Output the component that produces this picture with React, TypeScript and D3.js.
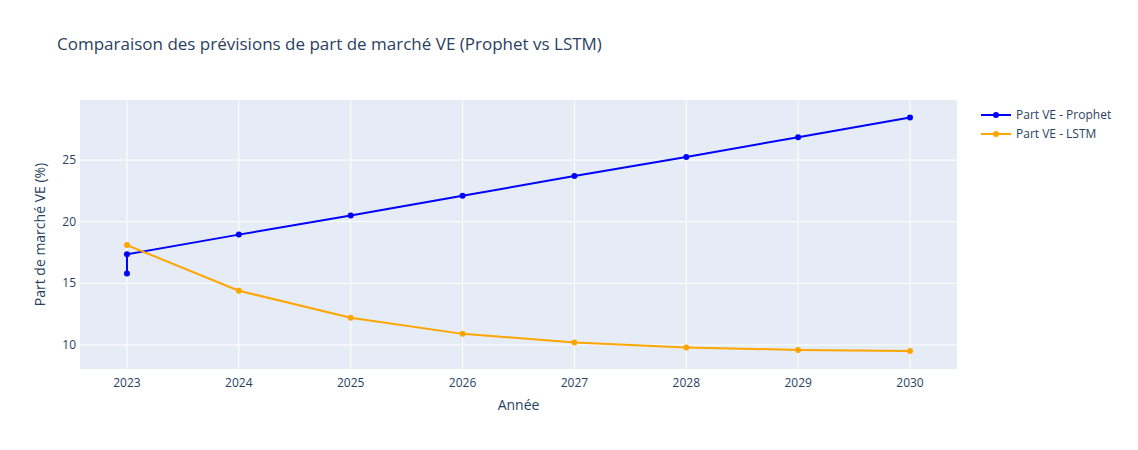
import { useEffect, useRef } from 'react'
import * as d3 from 'd3'

const prophetYears = [2023, 2023, 2024, 2025, 2026, 2027, 2028, 2029, 2030]
const prophetValues = [15.8, 17.35, 18.95, 20.5, 22.1, 23.7, 25.25, 26.85, 28.45]
const lstmYears = [2023, 2024, 2025, 2026, 2027, 2028, 2029, 2030]
const lstmValues = [18.1, 14.4, 12.2, 10.9, 10.2, 9.8, 9.6, 9.5]
const xTicks = [2023, 2024, 2025, 2026, 2027, 2028, 2029, 2030]
const yTicks = [10, 15, 20, 25]
const seriesNames = ['Part VE - Prophet', 'Part VE - LSTM']
const colors = ['#0000ff', '#ffa500']

export default function App() {
  const ref = useRef<SVGSVGElement>(null)

  useEffect(() => {
    const width = 1138, height = 450
    const m = { l: 80, r: 181, t: 100, b: 81 }
    const svg = d3.select(ref.current)
    svg.selectAll('*').remove()
    const font = '"Open Sans", "Liberation Sans", sans-serif'

    const x = d3.scaleLinear().domain([2022.58, 2030.42]).range([m.l, width - m.r])
    const y = d3.scaleLinear().domain([8.05, 29.87]).range([height - m.b, m.t])

    svg.append('rect').attr('width', width).attr('height', height).attr('fill', 'white')
    svg.append('rect')
      .attr('x', m.l).attr('y', m.t)
      .attr('width', width - m.l - m.r).attr('height', height - m.t - m.b)
      .attr('fill', '#e5ecf6')

    xTicks.forEach(t => {
      svg.append('line').attr('x1', x(t)).attr('x2', x(t)).attr('y1', m.t).attr('y2', height - m.b)
        .attr('stroke', 'white').attr('stroke-width', 1)
      svg.append('text').attr('x', x(t)).attr('y', height - m.b + 18).attr('text-anchor', 'middle')
        .attr('font-family', font).attr('font-size', 12).attr('fill', '#2a3f5f').text(t)
    })
    yTicks.forEach(t => {
      svg.append('line').attr('x1', m.l).attr('x2', width - m.r).attr('y1', y(t)).attr('y2', y(t))
        .attr('stroke', 'white').attr('stroke-width', 1)
      svg.append('text').attr('x', m.l - 4).attr('y', y(t) + 4).attr('text-anchor', 'end')
        .attr('font-family', font).attr('font-size', 12).attr('fill', '#2a3f5f').text(t)
    })

    const series = [
      { xs: prophetYears, ys: prophetValues },
      { xs: lstmYears, ys: lstmValues },
    ]
    const line = d3.line<[number, number]>().x(d => x(d[0])).y(d => y(d[1]))
    series.forEach((s, i) => {
      const pts = s.xs.map((v, j) => [v, s.ys[j]] as [number, number])
      svg.append('path').datum(pts).attr('d', line).attr('fill', 'none')
        .attr('stroke', colors[i]).attr('stroke-width', 2)
      svg.selectAll(null).data(pts).enter().append('circle')
        .attr('cx', d => x(d[0])).attr('cy', d => y(d[1])).attr('r', 3).attr('fill', colors[i])
    })

    svg.append('text').attr('x', 57).attr('y', 50).attr('font-family', font).attr('font-size', 17)
      .attr('fill', '#2a3f5f').text('Comparaison des prévisions de part de marché VE (Prophet vs LSTM)')
    svg.append('text').attr('x', (m.l + width - m.r) / 2).attr('y', 410).attr('text-anchor', 'middle')
      .attr('font-family', font).attr('font-size', 14).attr('fill', '#2a3f5f').text('Année')
    svg.append('text').attr('transform', `translate(45,${(m.t + height - m.b) / 2}) rotate(-90)`)
      .attr('text-anchor', 'middle').attr('font-family', font).attr('font-size', 14)
      .attr('fill', '#2a3f5f').text('Part de marché VE (%)')

    seriesNames.forEach((n, i) => {
      const ly = 115 + i * 19
      svg.append('line').attr('x1', 981).attr('x2', 1011).attr('y1', ly).attr('y2', ly)
        .attr('stroke', colors[i]).attr('stroke-width', 2)
      svg.append('circle').attr('cx', 996).attr('cy', ly).attr('r', 3).attr('fill', colors[i])
      svg.append('text').attr('x', 1016).attr('y', ly + 4).attr('font-family', font).attr('font-size', 12)
        .attr('fill', '#2a3f5f').text(n)
    })
  }, [])

  return <svg ref={ref} width={1138} height={450} style={{ position: 'absolute', left: 0, top: 0 }} />
}
